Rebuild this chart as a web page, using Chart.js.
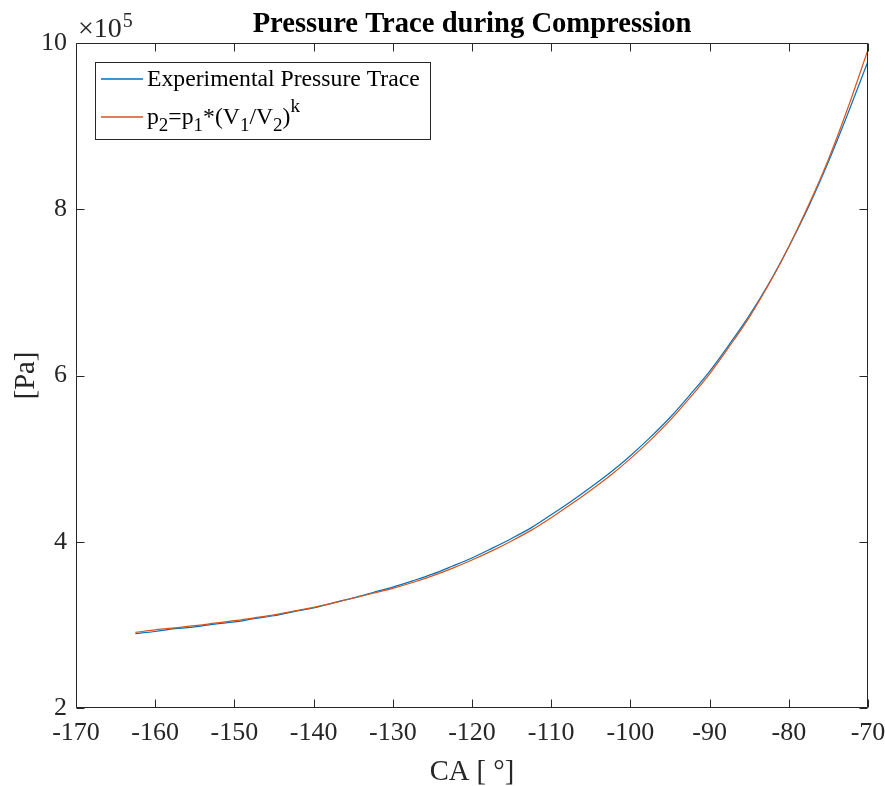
<!DOCTYPE html>
<html>
<head>
<meta charset="utf-8">
<script src="https://cdn.jsdelivr.net/npm/chart.js@4.4.1/dist/chart.umd.min.js"></script>
<style>
  html, body { margin: 0; padding: 0; background: #fff; }
  #chart { display: block; }
</style>
</head>
<body>
<canvas id="chart" width="885" height="786"></canvas>
<script>
// crank angle [deg] and pressure [x1e5 Pa]
const crankAngle = [-162.5, -160, -157.5, -155, -152.5, -150, -147.5, -145, -142.5, -140,
    -137.5, -135, -132.5, -130, -127.5, -125, -122.5, -120, -117.5, -115,
    -112.5, -110, -107.5, -105, -102.5, -100, -97.5, -95, -92.5, -90,
    -87.5, -85, -82.5, -80, -77.5, -75, -72.5, -70];
const pExperimental = [2.895, 2.92, 2.955, 2.975, 3.01, 3.035, 3.075, 3.11, 3.16, 3.205,
    3.265, 3.325, 3.39, 3.455, 3.53, 3.61, 3.705, 3.805, 3.92, 4.04,
    4.17, 4.325, 4.485, 4.655, 4.835, 5.035, 5.255, 5.495, 5.765, 6.05,
    6.375, 6.72, 7.11, 7.55, 8.03, 8.57, 9.16, 9.78];
const pPolytropic = [2.91, 2.94, 2.965, 2.99, 3.02, 3.05, 3.085, 3.12, 3.165, 3.21,
    3.265, 3.32, 3.38, 3.44, 3.51, 3.59, 3.68, 3.78, 3.89, 4.01,
    4.14, 4.29, 4.45, 4.62, 4.80, 5.00, 5.22, 5.46, 5.73, 6.02,
    6.35, 6.70, 7.10, 7.55, 8.05, 8.60, 9.23, 9.92];

const xMin = -170, xMax = -70, xStep = 10;
const yMin = 2, yMax = 10, yStep = 2;

const AX = '#262626';
const SERIF = '"Liberation Serif", "Times New Roman", serif';
const BLUE = '#0072BD', ORANGE = '#D95319';

const toPoints = (xs, ys) => xs.map((x, i) => ({ x, y: ys[i] }));

// MATLAB-like box, inward ticks, titles and legend
const decorations = {
    id: 'decorations',
    afterDraw(chart) {
        const { ctx, chartArea: a, scales: { x, y } } = chart;
        const L = Math.round(a.left) + 0.5, R = Math.round(a.right) - 0.5;
        const T = Math.round(a.top) + 0.5, B = Math.round(a.bottom) - 0.5;
        ctx.save();
        ctx.strokeStyle = AX;
        ctx.lineWidth = 1;
        ctx.beginPath();
        ctx.rect(L, T, R - L, B - T);
        x.ticks.forEach(t => {
            const px = Math.round(x.getPixelForValue(t.value)) + 0.5;
            ctx.moveTo(px, B); ctx.lineTo(px, B - 8);
            ctx.moveTo(px, T); ctx.lineTo(px, T + 8);
        });
        y.ticks.forEach(t => {
            const py = Math.round(y.getPixelForValue(t.value)) + 0.5;
            ctx.moveTo(L, py); ctx.lineTo(L + 8, py);
            ctx.moveTo(R, py); ctx.lineTo(R - 8, py);
        });
        ctx.stroke();

        // title
        ctx.fillStyle = '#000';
        ctx.textAlign = 'center';
        ctx.textBaseline = 'alphabetic';
        ctx.font = 'bold 28.6px ' + SERIF;
        ctx.fillText('Pressure Trace during Compression', (a.left + a.right) / 2, 32);

        // exponent
        ctx.fillStyle = AX;
        ctx.textAlign = 'left';
        ctx.font = '28px ' + SERIF;
        ctx.fillText('\u00d710', 78, 37);
        const w10 = ctx.measureText('\u00d710').width;
        ctx.font = '20px ' + SERIF;
        ctx.fillText('5', 78 + w10 + 1, 27);

        // axis titles
        ctx.font = '28.6px ' + SERIF;
        ctx.textAlign = 'center';
        ctx.fillText('CA [ \u00b0]', (a.left + a.right) / 2, 780);
        ctx.save();
        ctx.translate(34, (a.top + a.bottom) / 2);
        ctx.rotate(-Math.PI / 2);
        ctx.fillText('[Pa]', 0, 0);
        ctx.restore();

        // legend
        const bx = 95.5, by = 62.5, bw = 335, bh = 77;
        ctx.fillStyle = '#fff';
        ctx.fillRect(bx, by, bw, bh);
        ctx.strokeStyle = AX;
        ctx.strokeRect(bx, by, bw, bh);
        const rows = [79, 117];
        [BLUE, ORANGE].forEach((c, i) => {
            ctx.strokeStyle = c;
            ctx.lineWidth = 1.3;
            ctx.beginPath();
            ctx.moveTo(101, rows[i]); ctx.lineTo(143, rows[i]);
            ctx.stroke();
        });
        ctx.fillStyle = '#000';
        ctx.textAlign = 'left';
        ctx.textBaseline = 'middle';
        ctx.font = '23.7px ' + SERIF;
        ctx.fillText(chart.data.datasets[0].label, 147, rows[0] + 1);
        // p2 = p1*(V1/V2)^k with sub/superscripts
        const parts = [['p', 0], ['2', 1], ['=p', 0], ['1', 1], ['*(V', 0], ['1', 1], ['/V', 0], ['2', 1], [')', 0], ['k', -1]];
        let cx = 147;
        parts.forEach(([s, mode]) => {
            ctx.font = (mode === 0 ? '23.7px ' : '19px ') + SERIF;
            const dy = mode === 1 ? 8 : mode === -1 ? -11 : 0;
            ctx.fillText(s, cx, rows[1] + 1 + dy);
            cx += ctx.measureText(s).width;
        });
        ctx.restore();
    }
};

new Chart(document.getElementById('chart'), {
    type: 'line',
    data: {
        datasets: [
            {
                label: 'Experimental Pressure Trace',
                data: toPoints(crankAngle, pExperimental),
                borderColor: BLUE,
                borderWidth: 1.2,
                pointRadius: 0,
                cubicInterpolationMode: 'monotone',
                order: 1
            },
            {
                label: 'p2=p1*(V1/V2)^k',
                data: toPoints(crankAngle, pPolytropic),
                borderColor: ORANGE,
                borderWidth: 1.2,
                pointRadius: 0,
                cubicInterpolationMode: 'monotone',
                order: 0
            }
        ]
    },
    options: {
        responsive: false,
        animation: false,
        events: [],
        layout: { padding: { left: 0, right: 17, top: 43, bottom: 0 } },
        plugins: {
            legend: { display: false },
            tooltip: { enabled: false },
            title: { display: false }
        },
        scales: {
            x: {
                type: 'linear',
                min: xMin, max: xMax,
                grid: { display: false, drawTicks: false },
                border: { display: false },
                ticks: { stepSize: xStep, color: AX, padding: 10, maxRotation: 0, font: { family: SERIF, size: 26 } },
                afterFit: s => { s.height = 78; s.paddingLeft = 0; s.paddingRight = 0; }
            },
            y: {
                type: 'linear',
                min: yMin, max: yMax,
                grid: { display: false, drawTicks: false },
                border: { display: false },
                ticks: { stepSize: yStep, color: AX, padding: 9, font: { family: SERIF, size: 26 } },
                afterFit: s => { s.width = 76; s.paddingTop = 0; s.paddingBottom = 0; }
            }
        }
    },
    plugins: [decorations]
});
</script>
</body>
</html>
